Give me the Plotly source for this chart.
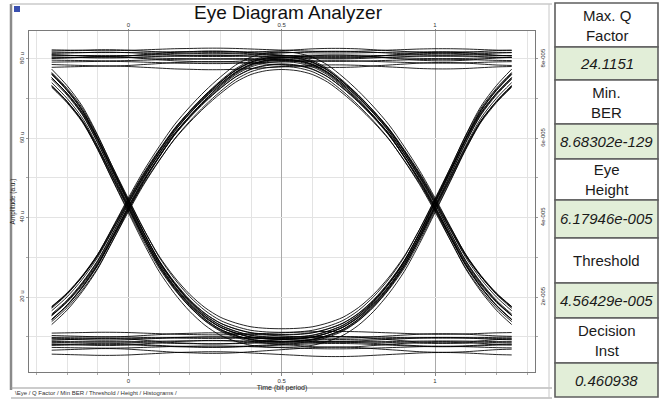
import plotly.graph_objects as go

# ---------------- data (amplitude in micro a.u.) ----------------
t = [-0.25, -0.2, -0.15, -0.1, -0.05, 0.0, 0.05, 0.1, 0.15, 0.2, 0.25, 0.3, 0.35, 0.4, 0.45,
     0.5, 0.55, 0.6, 0.65, 0.7, 0.75, 0.8, 0.85, 0.9, 0.95, 1.0, 1.05, 1.1, 1.15, 1.2, 1.25]

# isolated "1" (0 -> 1 -> 0)
pulse_up = [15.5, 19, 23.5, 29, 36, 43.2, 50, 56, 61.5, 66, 70, 73.5, 76.5, 78.5, 79.5,
            79.8, 79.5, 78.5, 76.5, 73.5, 70, 66, 61.5, 56, 50, 43.2, 36, 29, 23.5, 19, 15.5]
# isolated "0" (1 -> 0 -> 1)
pulse_down = [75, 71, 66, 59, 51, 43.2, 35.5, 28.5, 23, 18.5, 15, 12.5, 11, 10, 9.6,
              9.5, 9.6, 10, 11, 12.5, 15, 18.5, 23, 28.5, 35.5, 43.2, 51, 59, 66, 71, 75]
# slow ripple seen on the rails
rail_ripple = [0.0, 0.1, 0.2, 0.3, 0.3, 0.2, 0.0, -0.2, -0.4, -0.5, -0.6, -0.6, -0.5, -0.3, -0.1,
               0.1, 0.3, 0.5, 0.6, 0.6, 0.5, 0.3, 0.1, -0.1, -0.3, -0.4, -0.4, -0.3, -0.1, 0.1, 0.2]

eye_center = 44.0
up_scale = [0.95, 0.965, 0.975, 0.985, 0.995, 1.0, 1.0, 1.005, 1.012, 1.02, 1.03, 1.04, 0.97, 1.015]
up_offset = [0.6, -1.2, 1.4, -0.5, 0.9, -1.7, 0.2, 1.8, -0.9, 0.4, -0.3, -1.3, 1.1, -0.7]
down_scale = [0.955, 0.965, 0.98, 0.99, 0.995, 1.0, 1.0, 1.008, 1.015, 1.022, 1.03, 1.04, 0.972, 1.012]
down_offset = [-0.5, 1.3, -1.5, 0.6, -0.8, 1.6, -0.1, -1.9, 0.9, -0.4, 0.3, 1.2, -1.0, 0.7]

hi_levels = [77.9, 78.6, 79.2, 79.7, 80.1, 80.5, 80.8, 81.1, 81.4, 81.7, 82.0, 82.3, 80.3, 81.0]
hi_ripple_amp = [1.0, -1.2, 0.6, -0.5, 1.4, -0.8, 0.3, -1.5, 0.9, -0.3, 1.1, -0.7, 0.5, -1.0]
lo_levels = [5.6, 6.6, 7.3, 7.8, 8.2, 8.5, 8.8, 9.1, 9.4, 9.8, 10.3, 10.9, 8.0, 9.6]
lo_ripple_amp = [-1.0, 1.3, -0.6, 0.8, -1.4, 0.5, -0.3, 1.5, -0.9, 0.4, -1.1, 0.7, 1.0, -0.5]

x_major = [0, 0.5, 1]
x_major_text = ["0", "0.5", "1"]
y_major = [20, 40, 60, 80]
y_left_text = ["20 u", "40 u", "60 u", "80 u"]
y_right_text = ["2e-005", "4e-005", "6e-005", "8e-005"]

table_text = ["Max. Q<br>Factor", "24.1151", "Min.<br>BER", "8.68302e-129", "Eye<br>Height",
              "6.17946e-005", "Threshold", "4.56429e-005", "Decision<br>Inst", "0.460938"]
tab_labels = ["Eye", "Q Factor", "Min BER", "Threshold", "Height", "Histograms"]

# ---------------- layout geometry (pixels) ----------------
W, H = 662, 400
L, R, T, B = 29, 535, 31, 372
XR = [-0.324, 1.326]
YR = [1.1, 87.05]


def px(xp):
    return (xp - L) / (R - L)


def py(yp):
    return (B - yp) / (B - T)


FONT = "Liberation Sans, Arial, sans-serif"
line_style = dict(color="rgba(0,0,0,0.85)", width=1.0, shape="spline", smoothing=0.8)

fig = go.Figure()

traces_y = []
for s, o in zip(up_scale, up_offset):
    traces_y.append([eye_center + (v - eye_center) * s + o for v in pulse_up])
for s, o in zip(down_scale, down_offset):
    traces_y.append([eye_center + (v - eye_center) * s + o for v in pulse_down])
for lv, a in zip(hi_levels, hi_ripple_amp):
    traces_y.append([lv + a * r for r in rail_ripple])
for lv, a in zip(lo_levels, lo_ripple_amp):
    traces_y.append([lv + a * r for r in rail_ripple])

for i, ys in enumerate(traces_y):
    last = i == len(traces_y) - 1
    fig.add_trace(go.Scatter(x=t, y=ys, mode="lines", line=line_style, hoverinfo="skip",
                             showlegend=False,
                             xaxis="x2" if last else "x", yaxis="y2" if last else "y"))

tickfont = dict(family=FONT, size=6, color="#333")
fig.update_layout(
    width=W, height=H,
    margin=dict(l=L, r=W - R, t=T, b=H - B, autoexpand=False),
    paper_bgcolor="white", plot_bgcolor="white",
    showlegend=False,
    xaxis=dict(range=XR, tickvals=x_major, ticktext=x_major_text, showgrid=True, automargin=False,
               gridcolor="#a9a9a9", gridwidth=1, zeroline=False,
               ticks="outside", ticklen=3, tickcolor="#888", tickfont=tickfont,
               showline=True, linecolor="#7a7a7a", linewidth=1, mirror=True,
               minor=dict(dtick=0.1, tick0=0, showgrid=True, gridcolor="#e3e3e3",
                          ticks="outside", ticklen=2, tickcolor="#aaa"),
               title=dict(text="Time (bit period)", font=dict(family=FONT, size=7, color="#222"),
                          standoff=0)),
    xaxis2=dict(range=XR, overlaying="x", side="top", tickvals=x_major, ticktext=x_major_text,
                showgrid=False, zeroline=False, ticks="outside", ticklen=1, tickcolor="#888",
                tickfont=tickfont, showline=False, automargin=False),
    yaxis=dict(range=YR, tickvals=y_major, ticktext=y_left_text, tickangle=-90, automargin=False,
               showgrid=True, gridcolor="#e3e3e3", zeroline=False,
               ticks="outside", ticklen=2, tickcolor="#999", tickfont=tickfont,
               showline=True, linecolor="#7a7a7a", linewidth=1, mirror=True,
               minor=dict(dtick=10, tick0=0, showgrid=True, gridcolor="#e3e3e3",
                          ticks="outside", ticklen=2, tickcolor="#aaa"),
               title=dict(text="Amplitude (a.u.)", font=dict(family=FONT, size=6.5, color="#222"),
                          standoff=2)),
    yaxis2=dict(range=YR, overlaying="y", side="right", tickvals=y_major, ticktext=y_right_text,
                tickangle=-90, showgrid=False, zeroline=False, ticks="outside", ticklen=2,
                tickcolor="#999", tickfont=tickfont, showline=False, automargin=False,
                minor=dict(dtick=10, tick0=0, ticks="outside", ticklen=2, tickcolor="#aaa")),
)

shapes = []
annotations = []

# chart panel frame
shapes.append(dict(type="line", xref="paper", yref="paper", x0=px(11), x1=px(11), y0=py(4), y1=py(390),
                   line=dict(color="#8a8a8a", width=2.5)))
shapes.append(dict(type="line", xref="paper", yref="paper", x0=px(11), x1=px(552), y0=py(4), y1=py(4),
                   line=dict(color="#b0b0b0", width=1.2)))
shapes.append(dict(type="line", xref="paper", yref="paper", x0=px(11), x1=px(552), y0=py(388), y1=py(388),
                   line=dict(color="#9a9a9a", width=1.2)))
shapes.append(dict(type="line", xref="paper", yref="paper", x0=px(11), x1=px(552), y0=py(398), y1=py(398),
                   line=dict(color="#9a9a9a", width=1.2)))
shapes.append(dict(type="line", xref="paper", yref="paper", x0=px(549), x1=px(549), y0=py(4), y1=py(398),
                   line=dict(color="#c8c8c8", width=1)))
# little icon top-left
shapes.append(dict(type="rect", xref="paper", yref="paper", x0=px(14), x1=px(20), y0=py(6), y1=py(12),
                   fillcolor="#3a50b0", line=dict(width=0)))

# title
annotations.append(dict(text="Eye Diagram Analyzer", xref="paper", yref="paper", x=px(288), y=py(12),
                        showarrow=False, xanchor="center", yanchor="middle",
                        font=dict(family=FONT, size=19, color="#111")))

# tab strip
annotations.append(dict(text="\\" + " / ".join(tab_labels) + " /", xref="paper", yref="paper",
                        x=px(13), y=py(392.5), showarrow=False, xanchor="left", yanchor="middle",
                        font=dict(family=FONT, size=6, color="#333")))

# result table
row_edges = [3, 47, 80, 124, 159, 200, 238, 283, 318, 363, 397]
cx0, cx1 = 555, 658
for i, txt in enumerate(table_text):
    y0, y1 = row_edges[i], row_edges[i + 1]
    is_value = i % 2 == 1
    shapes.append(dict(type="rect", xref="paper", yref="paper", x0=px(cx0), x1=px(cx1),
                       y0=py(y1), y1=py(y0),
                       fillcolor="#e2eed8" if is_value else "white",
                       line=dict(color="#5e5e5e", width=1.6)))
    annotations.append(dict(text=("<i>%s</i>" % txt) if is_value else txt,
                            xref="paper", yref="paper", x=px((cx0 + cx1) / 2), y=py((y0 + y1) / 2),
                            showarrow=False, xanchor="center", yanchor="middle",
                            font=dict(family=FONT, size=15, color="#1a1a1a")))

fig.update_layout(shapes=shapes, annotations=annotations)

fig.write_html("out.html", config={"displayModeBar": False},
               post_script="document.body.style.margin='0';document.body.style.padding='0';")
